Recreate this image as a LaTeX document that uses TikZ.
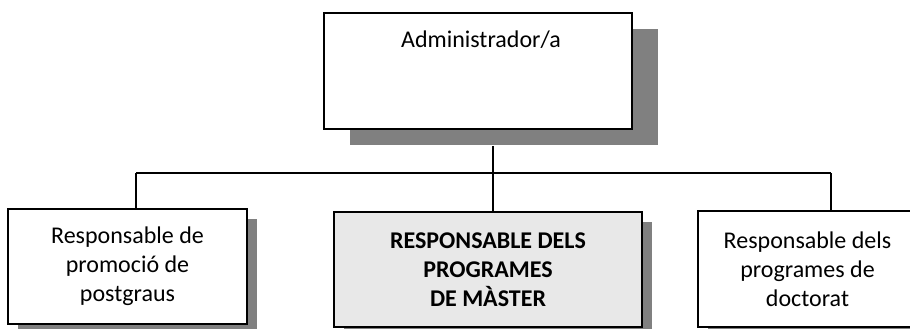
\documentclass[tikz,border=0pt]{standalone}
\usepackage{fontspec}
\setmainfont{Carlito}
\usetikzlibrary{shadows}

\definecolor{shadowgray}{HTML}{808080}
\definecolor{boxgray}{HTML}{E8E8E8}

\tikzset{
  orgbox/.style={draw, line width=1.6pt, fill=white, align=center,
    font=\fontsize{24}{29}\selectfont, inner sep=0pt},
  bigshadow/.style={drop shadow={shadow xshift=26pt, shadow yshift=-16pt,
    fill=shadowgray, opacity=1}},
  smallshadow/.style={drop shadow={shadow xshift=10pt, shadow yshift=-10pt,
    fill=shadowgray, opacity=1}},
  link/.style={line width=1.3pt}
}

\begin{document}
\begin{tikzpicture}[x=1pt, y=-1pt]
    \useasboundingbox (0,0) rectangle (910,329);

    % top box
    \node[orgbox, bigshadow, minimum width=308pt, minimum height=116pt] (admin) at (478,71) {};
    \node[anchor=base, font=\fontsize{24}{29}\selectfont] (admintxt) at (481,48) {Administrador/a};

    % bottom row
    \node[orgbox, smallshadow, minimum width=239pt, minimum height=115pt] (promo) at (127.5,266.5)
        {Responsable de\\promoció de\\postgraus};
    \node[orgbox, smallshadow, fill=boxgray, font=\fontsize{24}{29}\selectfont\bfseries,
        minimum width=308pt, minimum height=115pt] (master) at (488,269.5)
        {RESPONSABLE DELS\\PROGRAMES\\DE MÀSTER};
    \node[orgbox, smallshadow, minimum width=219pt, minimum height=116pt] (doct) at (807.5,269)
        {Responsable dels\\programes de\\doctorat};

    % connectors
    \coordinate (hub) at (493,173);
    \coordinate (leftend) at (136,173);
    \coordinate (rightend) at (831,173);
    \draw[link] ([yshift=-16pt]admin.south -| hub) -- (hub);
    \draw[link] (leftend) -- (rightend);
    \draw[link] (leftend) -- (leftend |- promo.north);
    \draw[link] (hub) -- (hub |- master.north);
    \draw[link] (rightend) -- (rightend |- doct.north);
\end{tikzpicture}
\end{document}
